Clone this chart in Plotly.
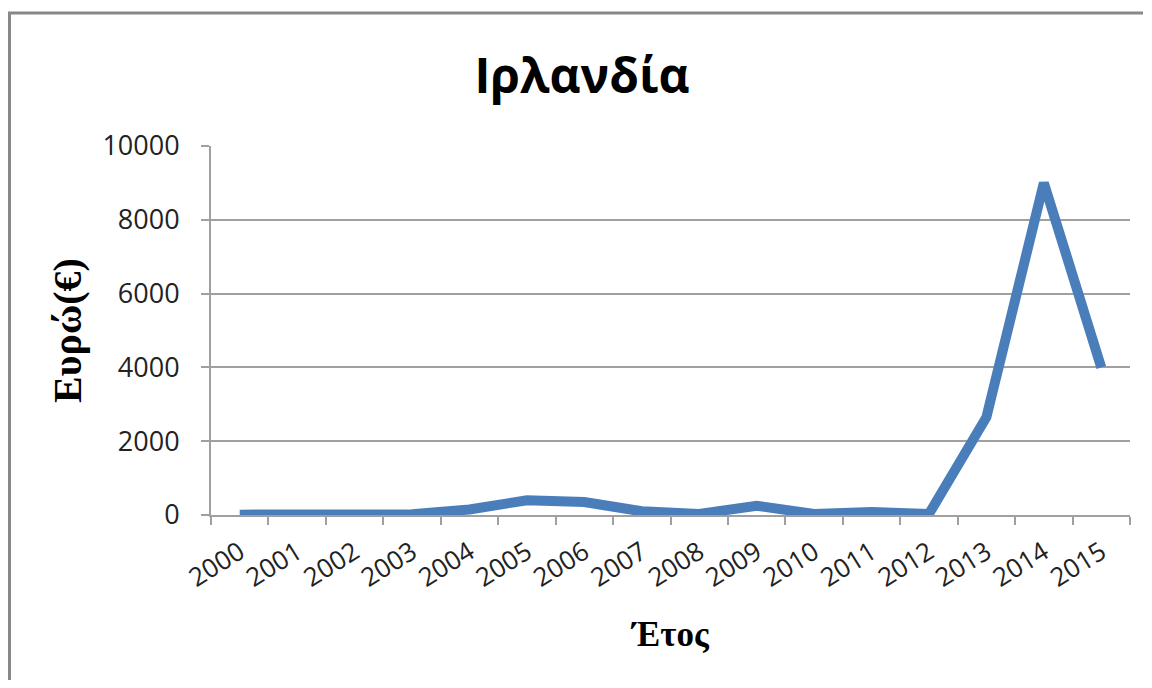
import plotly.graph_objects as go

years = ["2000", "2001", "2002", "2003", "2004", "2005", "2006", "2007",
         "2008", "2009", "2010", "2011", "2012", "2013", "2014", "2015"]
values = [10, 10, 10, 20, 150, 400, 350, 100, 30, 250, 30, 80, 30, 2650, 9000, 4000]
y_ticks = [0, 2000, 4000, 6000, 8000, 10000]

title_text = "Ιρλανδία"
x_title = "Έτος"
y_title = "Ευρώ(€)"

# page has an 8px body margin; figure coords = page coords - 8
OFF = 8
W, H = 1152 - 2 * OFF, 688 - 2 * OFF
L, R, T, B = 211 - OFF, 1130 - OFF, 146 - OFF, 515 - OFF

fig = go.Figure()
fig.add_trace(go.Scatter(
    x=years, y=values, mode="lines",
    line=dict(color="#4a7ebb", width=10, shape="linear"),
    showlegend=False, hoverinfo="x+y",
))

def fx(p):
    # figure-pixel x -> paper
    return (p - L) / (R - L)

def fy(p):
    # figure-pixel y -> paper
    return (B - p) / (B - T)

border = dict(color="#888888", width=3)

fig.update_layout(
    width=W, height=H,
    margin=dict(l=L, r=W - R, t=T, b=H - B, pad=0),
    paper_bgcolor="white", plot_bgcolor="white",
    title=dict(text=title_text, x=(582 - OFF) / W, xanchor="center",
               y=1 - 68 / H, yanchor="middle", yref="container",
               font=dict(family="Open Sans", size=48, color="black", weight="bold")),
    xaxis=dict(
        type="category", range=[-0.5, 15.5],
        showgrid=False, showline=True, linecolor="#a0a0a0", linewidth=2,
        ticks="outside", tickson="boundaries", ticklen=8, tickcolor="#a0a0a0", tickwidth=2,
        tickangle=-32, ticklabelstandoff=10,
        tickfont=dict(family="Open Sans", size=26, color="#222"),
        title=dict(text=x_title, standoff=28,
                   font=dict(family="Liberation Serif", size=35, color="black", weight="bold")),
    ),
    yaxis=dict(
        range=[0, 10000], tickvals=y_ticks, ticktext=[str(v) for v in y_ticks],
        showgrid=True, gridcolor="#a0a0a0", gridwidth=1.5,
        zeroline=False, showline=True, linecolor="#a0a0a0", linewidth=2,
        ticks="outside", ticklen=8, tickcolor="#a0a0a0", tickwidth=2,
        ticklabelstandoff=16,
        tickfont=dict(family="Open Sans", size=27, color="#222"),
        title=dict(text=y_title, standoff=8,
                   font=dict(family="Liberation Serif", size=40, color="black", weight="bold")),
    ),
    shapes=[
        dict(type="path", xref="paper", yref="paper",
             path="M {x0},{y0} L {x0},{y1} L {x1},{y1}".format(
                 x0=fx(1.5), y0=fy(H), y1=fy(13 - OFF), x1=fx(W - 1)),
             line=border, layer="below"),
    ],
)

fig.write_html("out.html")
